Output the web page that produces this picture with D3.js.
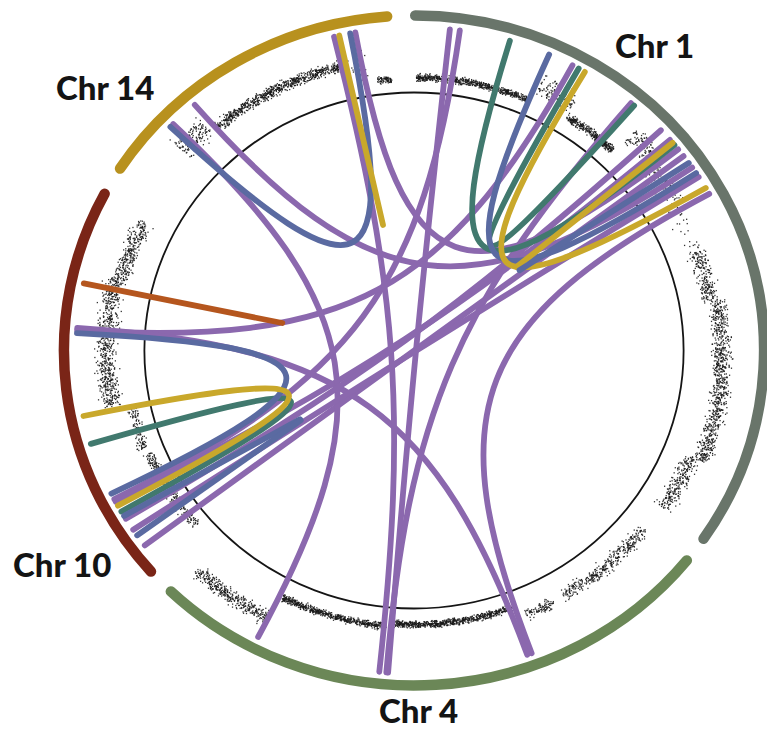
<!DOCTYPE html>
<html><head><meta charset="utf-8">
<script src="https://cdn.jsdelivr.net/npm/d3@7"></script>
<style>
html,body{margin:0;padding:0;background:#fff;}
svg{display:block;}
.lbl{font-family:"Lato","Open Sans",sans-serif;font-weight:900;font-size:33px;fill:#141414;}
</style></head><body>
<svg id="chart" width="767" height="730"></svg>
<script>
// ---- chromosome ideogram (angles in degrees, clockwise from 12 o'clock) ----
const chromNames  = ["Chr 1", "Chr 4", "Chr 10", "Chr 14"];
const chromStart  = [0.2, 128.8, 228.7, 302.9];
const chromEnd    = [124.2, 224.0, 297.9, 355.6];
const chromColors = ["#69756a", "#6b8757", "#7a2517", "#b8911e"];
const labelX = [615, 379, 13, 56];
const labelY = [58, 723, 577, 100];

// ---- link colours ----
const P = "#8b68ae", B = "#5a6aa1", G = "#41796e", Y = "#c9a82b", O = "#b5561e";

// ---- links: start / end positions (degrees); hub links end on the inner hub ring ----
const linkFrom  = [6.1, 7.8, 28.0, 40.0, 49.3, 53.0, 61.0, 274.0, 314.5, 319.5, 346.3, 350.0, 57.5, 47.0,
                   16.5, 29.2, 253.2, 23.6, 273.1, 313.8, 30.4, 258.3,
                   347.2, 282.0, 239.2, 235.1, 50.0, 54.5];
const linkTo    = [184.4, 242.6, 273.6, 184.7, 242.1, 232.9, 159.6, 160.4, 207.5, 55.5, 185.9, 51.5, 236.3, 238.6,
                   50.5, 40.7, 240.1, 56.7, 243.7, 349.1, 59.8, 241.3,
                   346.7, 282.3, 237.8, 237.2, 49.6, 51.5];
const linkColor = [P, P, P, P, P, P, P, P, P, P, P, P, P, P,
                   G, G, G, B, B, B, Y, Y,
                   Y, O, B, B, Y, B];
const linkToHub = [0,0,0,0,0,0,0,0,0,0,0,0,0,0, 0,0,0,0,0,0,0,0, 1,1,1,1,1,1];

// ---- scatter track segments: angle range, level, spread, points per degree ----
const segStart   = [312, 320, 347, 352.5,  0.5, 24.5, 32, 44, 50, 60, 70, 80, 95, 112,
                    129, 152, 160, 185.5, 208,  230, 249, 259, 284];
const segEnd     = [318.5, 346, 351, 355.5, 24, 32, 43.5, 50, 60, 70, 80, 95, 112, 123.5,
                    150, 158, 184, 207, 223.5,  248, 258, 284, 296.5];
const segLevel   = [0.58, 0.25, 0.08, -0.58, -0.54, 0.17, -0.42, 0.58, 0.21, 0.08, 0.08, 0.33, 0.42, 0.0,
                    -0.12, -0.04, -0.5, -0.38, 0.67,  -0.58, -0.42, 0.33, 0.12];
const segSpread  = [0.34, 0.15, 0.4, 0.1, 0.1, 0.33, 0.12, 0.33, 0.33, 0.33, 0.25, 0.25, 0.25, 0.25,
                    0.2, 0.17, 0.1, 0.1, 0.2,  0.16, 0.15, 0.29, 0.25];
const segDensity = [22, 30, 6, 26, 30, 16, 30, 18, 10, 3, 22, 26, 26, 22,
                    18, 16, 30, 30, 24,  14, 12, 26, 24];

// ---- geometry ----
const cx = 414, cy = 350.5, sx = 1.045;
const rIdeo = 335, rLink = 323, rHub = 129, rCircle = 258;
const angle = d3.scaleLinear().domain([0, 360]).range([0, 2 * Math.PI]);
const track = d3.scaleLinear().domain([-1, 1]).range([262, 310]);
const polar = (deg, r) => [r * Math.sin(angle(deg)), -r * Math.cos(angle(deg))];

const svg = d3.select("#chart");
const g = svg.append("g").attr("transform", `translate(${cx},${cy}) scale(${sx},1)`);

// inner reference circle
g.append("circle").attr("r", rCircle).attr("fill", "none")
  .attr("stroke", "#151515").attr("stroke-width", 1.8)
  .attr("vector-effect", "non-scaling-stroke");

// scatter track
function hash(n) { const x = Math.sin(n * 127.1 + 311.7) * 43758.5453; return x - Math.floor(x); }
const dots = [];
segStart.forEach((s0, si) => {
  const s1 = segEnd[si];
  const n = Math.round((s1 - s0) * segDensity[si]);
  for (let i = 0; i < n; i++) {
    const k = si * 10000 + i;
    const a = s0 + (s1 - s0) * hash(k * 3 + 1);
    const gz = (hash(k * 3 + 2) + hash(k * 3 + 3) + hash(k * 7 + 5) - 1.5) * 1.4;
    dots.push({a, v: segLevel[si] + segSpread[si] * gz});
  }
});
g.append("g").selectAll("rect").data(dots).join("rect")
  .attr("x", d => polar(d.a, track(d.v))[0] - 0.6)
  .attr("y", d => polar(d.a, track(d.v))[1] - 0.65)
  .attr("width", 1.2).attr("height", 1.3)
  .attr("fill", "#1a1a1a").attr("opacity", 0.9);

// links
const links = linkFrom.map((a, i) => ({a1: a, a2: linkTo[i], color: linkColor[i], hub: linkToHub[i]}));
function linkPath(d) {
  const p = d3.path();
  const p1 = polar(d.a1, rLink);
  if (d.hub) {
    const p2 = polar(d.a2, rHub);
    p.moveTo(p1[0], p1[1]); p.lineTo(p2[0], p2[1]);
  } else {
    const p2 = polar(d.a2, rLink);
    const k = 0.2;
    p.moveTo(p1[0], p1[1]);
    p.bezierCurveTo(p1[0] * k, p1[1] * k, p2[0] * k, p2[1] * k, p2[0], p2[1]);
  }
  return p.toString();
}
g.append("g").selectAll("path").data(links).join("path")
  .attr("d", linkPath).attr("fill", "none")
  .attr("stroke", d => d.color).attr("stroke-width", 5.8)
  .attr("stroke-linecap", "round")
  .attr("vector-effect", "non-scaling-stroke");

// ideogram arcs
const chroms = chromNames.map((n, i) => ({name: n, a0: chromStart[i], a1: chromEnd[i], color: chromColors[i]}));
g.append("g").selectAll("path").data(chroms).join("path")
  .attr("d", d => { const p = d3.path(); p.arc(0, 0, rIdeo, angle(d.a0) - Math.PI / 2, angle(d.a1) - Math.PI / 2); return p.toString(); })
  .attr("fill", "none").attr("stroke", d => d.color).attr("stroke-width", 10.5)
  .attr("stroke-linecap", "round")
  .attr("vector-effect", "non-scaling-stroke");

// labels
svg.append("g").selectAll("text").data(chroms).join("text")
  .attr("class", "lbl")
  .attr("x", (d, i) => labelX[i]).attr("y", (d, i) => labelY[i])
  .text(d => d.name);
</script>
</body></html>
